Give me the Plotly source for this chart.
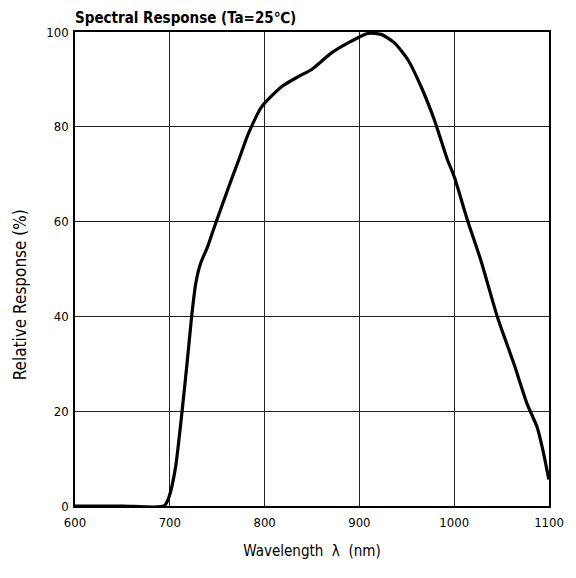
import plotly.graph_objects as go

wavelength = [600, 650, 694, 699, 706, 713, 718.5, 723, 727.3, 732.5, 739.5, 748.3, 762.3, 772.7,
              783.2, 797.2, 818.2, 835.7, 849.6, 870.6, 888.1, 909, 923, 937, 951, 965, 979,
              993, 1000, 1014, 1028, 1046, 1063, 1077, 1087.5, 1094.5, 1099.8]
response = [0, 0, 0, 1.8, 8.1, 20.1, 30.7, 39.9, 46.9, 51.2, 54.5, 59.6, 67.4, 73,
            78.7, 84.3, 88.5, 90.6, 92.1, 95.6, 97.7, 99.7, 99.5, 97.7, 94.2, 88.5, 81.5,
            73, 69.5, 60.3, 51.9, 39.6, 30, 21.5, 16.6, 10.9, 5.6]

x_ticks = [600, 700, 800, 900, 1000, 1100]
y_ticks = [0, 20, 40, 60, 80, 100]

FONT = "DejaVu Sans Condensed, Liberation Sans Narrow, Liberation Sans, Arial, sans-serif"

W, H = 568, 570
L, R, T, B = 67, 24, 24, 72

fig = go.Figure()
fig.add_trace(go.Scatter(x=wavelength, y=response, mode="lines",
                         line=dict(color="black", width=3.2, shape="spline", smoothing=0.6),
                         showlegend=False))

fig.update_layout(
    width=W, height=H,
    margin=dict(l=L, r=R, t=T, b=B),
    paper_bgcolor="white", plot_bgcolor="white",
    font=dict(family=FONT, color="black", size=13),
    annotations=[
        dict(text="<b>Spectral Response (Ta=25℃)</b>", xref="paper", yref="paper",
             x=0, xanchor="left", xshift=-2, y=1, yanchor="bottom", yshift=3, showarrow=False,
             font=dict(size=15, family=FONT)),
        dict(text="Relative Response (%)", textangle=-90, xref="paper", yref="paper",
             x=-(L - 12)/(W - L - R), xanchor="center",
             y=1 - (287 - T)/(H - T - B), yanchor="middle", showarrow=False,
             font=dict(size=17, family=FONT)),
    ],
)
fig.update_xaxes(range=[600, 1100], tickvals=x_ticks, showgrid=True, gridcolor="#222",
                 gridwidth=1, showline=True, linecolor="black", linewidth=1.5, mirror=True,
                 ticks="outside", ticklen=4, tickcolor="white", tickfont=dict(size=13),
                 zeroline=False,
                 title=dict(text="Wavelength  λ  (nm)", font=dict(size=15), standoff=16))
fig.update_yaxes(range=[0, 100], tickvals=y_ticks, showgrid=True, gridcolor="#222",
                 gridwidth=1, showline=True, linecolor="black", linewidth=1.5, mirror=True,
                 ticks="outside", ticklen=2, tickcolor="white", tickfont=dict(size=13),
                 zeroline=False)

fig.write_html("out.html")
